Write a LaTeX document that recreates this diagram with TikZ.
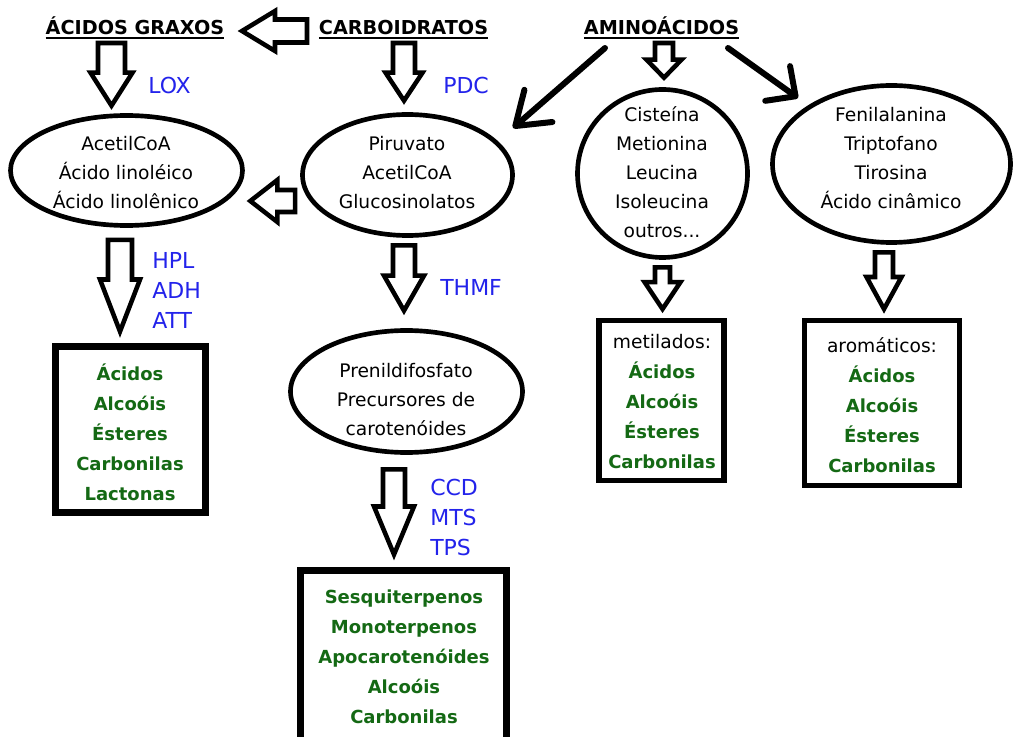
\documentclass[tikz,border=0pt]{standalone}
\usepackage{fontspec}
\setmainfont{DejaVu Sans}
\usetikzlibrary{calc,shapes.geometric,arrows.meta}
\definecolor{enz}{RGB}{35,35,235}
\definecolor{prod}{RGB}{20,105,20}
\newcommand{\ulx}[1]{\setbox0\hbox{#1}\rlap{\rule[-3pt]{\wd0}{1.2pt}}\box0}
% vertical block arrow: start, tip, shaft half, head half, head length (px)
\newcommand{\bdown}[5]{%
  \draw[barrow] let \p1=(#1), \p2=(#2) in
  (\x1-#3*0.75pt,\y1) -- (\x1-#3*0.75pt,\y2+#5*0.75pt) -- (\x1-#4*0.75pt,\y2+#5*0.75pt)
  -- (\x1,\y2) -- (\x1+#4*0.75pt,\y2+#5*0.75pt) -- (\x1+#3*0.75pt,\y2+#5*0.75pt)
  -- (\x1+#3*0.75pt,\y1) -- cycle;}
% horizontal block arrow pointing left
\newcommand{\bleft}[5]{%
  \draw[barrow] let \p1=(#1), \p2=(#2) in
  (\x1,\y1-#3*0.75pt) -- (\x2+#5*0.75pt,\y1-#3*0.75pt) -- (\x2+#5*0.75pt,\y1-#4*0.75pt)
  -- (\x2,\y1) -- (\x2+#5*0.75pt,\y1+#4*0.75pt) -- (\x2+#5*0.75pt,\y1+#3*0.75pt)
  -- (\x1,\y1+#3*0.75pt) -- cycle;}
\begin{document}
\begin{tikzpicture}[x=0.75pt,y=-0.75pt,
  ell/.style={draw, ellipse, line width=3.5pt, inner sep=0pt},
  box/.style={draw, rectangle, line width=5.25pt, inner sep=0pt},
  txt/.style={align=center, font=\fontsize{14}{21.75}\selectfont, inner sep=0pt},
  grn/.style={align=center, text=prod, font=\bfseries\fontsize{13.5}{22.5}\selectfont, inner sep=0pt},
  enzl/.style={align=left, anchor=west, text=enz, font=\fontsize{16.5}{22.5}\selectfont, inner sep=0pt},
  hdr/.style={anchor=base, font=\bfseries\fontsize{14.4}{16}\selectfont, inner sep=0pt},
  barrow/.style={draw, fill=white, line width=3.4pt, line join=miter},
  larrow/.style={line width=4.5pt, line cap=round, line join=round}
]
\useasboundingbox (0,0) rectangle (1016,737);
\fill[white] (0,0) rectangle (1016,737);

% headers
\node[hdr] (hAG) at (135,35) {\ulx{ÁCIDOS GRAXOS}};
\node[hdr] (hCA) at (403.5,35) {\ulx{CARBOIDRATOS}};
\node[hdr] (hAM) at (661.5,35) {\ulx{AMINOÁCIDOS}};

% ellipses
\node[ell, minimum width=174pt, minimum height=82.5pt] (e1) at (126.5,170.5) {};
\node[ell, minimum width=157.5pt, minimum height=90.75pt] (e2) at (407.5,175) {};
\node[ell, minimum width=174pt, minimum height=91.5pt] (e3) at (406.5,391.5) {};
\node[ell, minimum width=127.5pt, minimum height=126pt] (e4) at (662.5,173.5) {};
\node[ell, minimum width=178.5pt, minimum height=117.75pt] (e5) at (891.5,164) {};

% boxes
\node[box, minimum width=112.5pt, minimum height=124.5pt] (b1) at (130.5,429.5) {};
\node[box, line width=4.1pt, minimum width=94pt, minimum height=119.6pt] (b3) at (661.5,400.5) {};
\node[box, line width=4.1pt, minimum width=116pt, minimum height=123.4pt] (b4) at (882,403) {};
\node[box, minimum width=154.5pt, minimum height=150pt] (b5) at (403.5,670.5) {};

% texts
\node[txt] (t1) at (126,173) {AcetilCoA\\Ácido linoléico\\Ácido linolênico};
\node[txt] (t2) at (407,173) {Piruvato\\AcetilCoA\\Glucosinolatos};
\node[txt] (t3) at (406,400) {Prenildifosfato\\Precursores de\\carotenóides};
\node[txt] (t4) at (662,172) {Cisteína\\Metionina\\Leucina\\Isoleucina\\outros...};
\node[txt] (t5) at (891,158) {Fenilalanina\\Triptofano\\Tirosina\\Ácido cinâmico};
\node[grn] (g1) at (130,432) {Ácidos\\Alcoóis\\Ésteres\\Carbonilas\\Lactonas};
\node[grn] (g3) at (662,402) {{\normalfont\fontsize{14}{21.75}\selectfont\color{black}metilados:}\\Ácidos\\Alcoóis\\Ésteres\\Carbonilas};
\node[grn] (g4) at (882,405) {{\normalfont\fontsize{14}{21.75}\selectfont\color{black}aromáticos:}\\Ácidos\\Alcoóis\\Ésteres\\Carbonilas};
\node[grn] (g5) at (404,657) {Sesquiterpenos\\Monoterpenos\\Apocarotenóides\\Alcoóis\\Carbonilas};

% enzyme labels
\node[enzl] (lox) at (148,85) {LOX};
\node[enzl] (pdc) at (443,85) {PDC};
\node[enzl] (hpl) at (152,290) {HPL\\ADH\\ATT};
\node[enzl] (thmf) at (440,287) {THMF};
\node[enzl] (ccd) at (430,517) {CCD\\MTS\\TPS};

% block arrows
\bdown{$(hAG.base)+(-23.5,8)$}{$(e1.north)+(0,-7.5)$}{13.5}{21}{33}
\bdown{$(hCA.base)+(0.5,8)$}{$(e2.north)+(0,-11.5)$}{11}{18.5}{28}
\bleft{$(hCA.base)+(-96.5,-4)$}{$(hAG.base)+(107,-4)$}{11.5}{20}{33}
\bleft{$(e2.west)+(-5,26)$}{$(e1.east)+(5.5,0)$}{11}{21}{27}
\bdown{$(e1.south)+(-6.5,12)$}{$(b1.north)+(0,-11.5)$}{12}{20}{52}
\bdown{$(e2.south)+(-3.5,7.5)$}{$(e3.north)+(0,-17.5)$}{11}{20}{35}
\bdown{$(e3.south)+(-12.5,14.5)$}{$(b5.north)+(0,-12.5)$}{11}{20}{48}
\bdown{$(hAM.base)+(2.5,8)$}{$(e4.north)+(0,-9.5)$}{9}{17.5}{18}
\bdown{$(e4.south)+(0,7.5)$}{$(b3.north)+(0,-9)$}{7.5}{18}{27}
\bdown{$(e5.south)+(-7.5,7.5)$}{$(b4.north)+(0,-9)$}{9}{17.5}{32}

% line arrows
\draw[larrow, -{Straight Barb[length=23pt,width=32pt,round]}] ($(hAM.base)+(-56.5,13)$) -- ($(e2.center)+(105.5,-47)$);
\draw[larrow, -{Straight Barb[length=16.5pt,width=32pt,round]}] ($(hAM.base)+(66.5,13)$) -- ($(e5.center)+(-93.5,-66)$);
\end{tikzpicture}
\end{document}
